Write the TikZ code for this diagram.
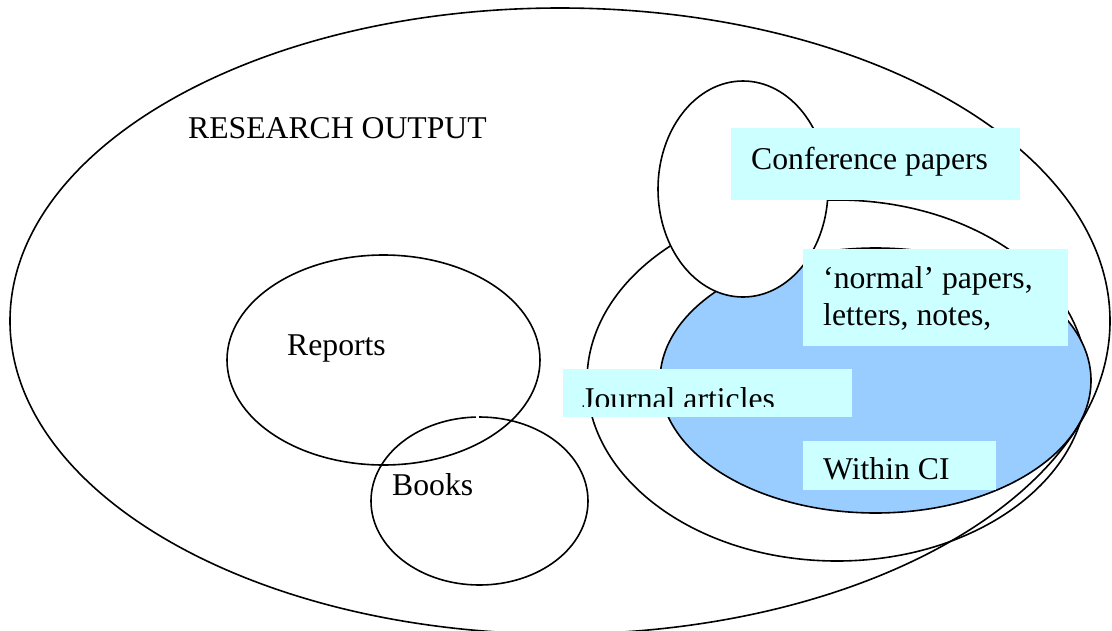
\documentclass[tikz,border=0pt]{standalone}
\usepackage{fontspec}
\setmainfont{Liberation Serif}
\usetikzlibrary{shapes.geometric}
\definecolor{cibl}{HTML}{99CCFF}
\definecolor{boxc}{HTML}{CCFFFF}
\begin{document}
\begin{tikzpicture}[x=1pt,y=-1pt,
 ring/.style={ellipse, draw=black, line width=1.6pt, inner sep=0pt},
 lbl/.style={anchor=base west, inner sep=0pt, font=\fontsize{31.7pt}{37pt}\selectfont},
 cbox/.style={fill=boxc, draw=none, anchor=north west, inner sep=0pt}]
\useasboundingbox[fill=white] (0,0) rectangle (1112,630);
% ellipses
\node[ring, minimum width=313pt, minimum height=210pt] (reports) at (383.5,360) {};
\node[ring, minimum width=217pt, minimum height=168pt] (books) at (479.5,501) {};
\fill[white] (476,410) rectangle (479,421);
\node[ring, fill=white, minimum width=500pt, minimum height=361pt] (journal) at (837,380.5) {};
\node[ring, fill=cibl, minimum width=431pt, minimum height=265pt] (ci) at (875.5,380.5) {};
\node[ring, fill=white, minimum width=170pt, minimum height=216pt] (conf) at (743,189) {};
\node[ring, minimum width=1100pt, minimum height=626pt] (outer) at (560,321) {};
% boxes
\node[cbox, minimum width=289pt, minimum height=72pt] (confbox) at (731,128) {};
\node[cbox, minimum width=265pt, minimum height=97pt] (normbox) at (803,249) {};
\node[cbox, minimum width=289pt, minimum height=48pt] (jbox) at (563,369) {};
\node[cbox, minimum width=193pt, minimum height=49pt] (cibox) at (803,441) {};
% labels
\node[lbl] (tro) at (188,138) {RESEARCH OUTPUT};
\node[lbl] (tconf) at (751,169) {Conference papers};
\node[lbl] (tnorm1) at (823,288) {‘normal’ papers,};
\node[lbl] (tnorm2) at (823,325) {letters, notes,};
\node[lbl] (trep) at (287,355) {Reports};
\node[lbl] (tbooks) at (392,495) {Books};
\node[lbl] (tci) at (823,479) {Within CI};
\begin{scope}
\clip (563,369) rectangle (852,406.5);
\node[lbl] (tjour) at (582,409) {Journal articles};
\end{scope}
\end{tikzpicture}
\end{document}
